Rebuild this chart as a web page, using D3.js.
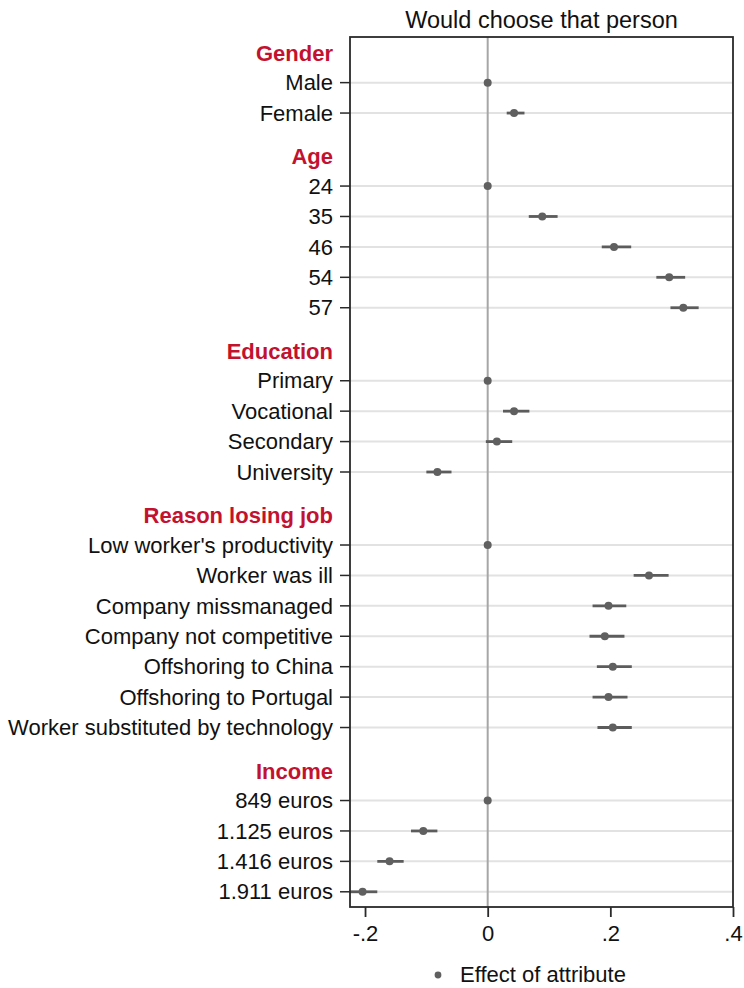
<!DOCTYPE html>
<html>
<head>
<meta charset="utf-8">
<script src="https://cdn.jsdelivr.net/npm/d3@7"></script>
<style>
  body { margin: 0; background: #fff; }
  svg text { font-family: "Liberation Sans", Arial, Helvetica, sans-serif; }
</style>
</head>
<body>
<div id="chart"></div>
<script>
// groups, labels and estimates
const groupNames = ['Gender', 'Age', 'Education', 'Reason losing job', 'Income'];
const gender = ['Male', 'Female'];
const age = ['24', '35', '46', '54', '57'];
const education = ['Primary', 'Vocational', 'Secondary', 'University'];
const reason = ["Low worker's productivity", 'Worker was ill', 'Company missmanaged',
  'Company not competitive', 'Offshoring to China', 'Offshoring to Portugal',
  'Worker substituted by technology'];
const income = ['849 euros', '1.125 euros', '1.416 euros', '1.911 euros'];

const genderEst = [0, 0.043];
const genderLo = [0, 0.031];
const genderHi = [0, 0.060];
const ageEst = [0, 0.089, 0.206, 0.296, 0.319];
const ageLo = [0, 0.067, 0.186, 0.275, 0.298];
const ageHi = [0, 0.114, 0.234, 0.322, 0.344];
const eduEst = [0, 0.043, 0.015, -0.082];
const eduLo = [0, 0.025, -0.003, -0.100];
const eduHi = [0, 0.068, 0.040, -0.059];
const reasonEst = [0, 0.263, 0.197, 0.191, 0.204, 0.197, 0.204];
const reasonLo = [0, 0.238, 0.171, 0.166, 0.178, 0.171, 0.179];
const reasonHi = [0, 0.295, 0.226, 0.223, 0.235, 0.228, 0.235];
const incomeEst = [0, -0.105, -0.160, -0.204];
const incomeLo = [0, -0.125, -0.180, -0.225];
const incomeHi = [0, -0.082, -0.137, -0.180];

const xTicks = [-0.2, 0, 0.2, 0.4];
const title = 'Would choose that person';
const legendLabel = 'Effect of attribute';

const groups = [
  { name: groupNames[0], labels: gender, est: genderEst, lo: genderLo, hi: genderHi },
  { name: groupNames[1], labels: age, est: ageEst, lo: ageLo, hi: ageHi },
  { name: groupNames[2], labels: education, est: eduEst, lo: eduLo, hi: eduHi },
  { name: groupNames[3], labels: reason, est: reasonEst, lo: reasonLo, hi: reasonHi },
  { name: groupNames[4], labels: income, est: incomeEst, lo: incomeLo, hi: incomeHi }
];

// lay rows out in "row units": one unit per row, extra gap before each group
const rows = [];
const heads = [];
let pos = 1.5;
groups.forEach((g, gi) => {
  if (gi > 0) pos += 1.4;
  heads.push({ name: g.name, pos: pos - 0.97 });
  g.labels.forEach((l, i) => {
    rows.push({ label: l, est: g.est[i], lo: g.lo[i], hi: g.hi[i], pos: pos });
    pos += 1;
  });
});
const lastPos = pos - 0.5;

const W = 744, H = 988;
const margin = { top: 37, right: 11, bottom: 81, left: 350 };
const fs = '22px';

const svg = d3.select('#chart').append('svg')
  .attr('width', W)
  .attr('height', H);

const x = d3.scaleLinear()
  .domain([-0.2245, 0.4])
  .range([margin.left, W - margin.right]);

const y = d3.scaleLinear()
  .domain([0, lastPos])
  .range([margin.top, H - margin.bottom]);

// grid lines
svg.append('g')
  .selectAll('line')
  .data(rows)
  .enter()
  .append('line')
  .attr('x1', margin.left)
  .attr('x2', W - margin.right)
  .attr('y1', d => y(d.pos))
  .attr('y2', d => y(d.pos))
  .attr('stroke', '#e2e2e2')
  .attr('stroke-width', 2);

// zero line
svg.append('line')
  .attr('x1', x(0)).attr('x2', x(0))
  .attr('y1', margin.top).attr('y2', H - margin.bottom)
  .attr('stroke', '#a6a6a6')
  .attr('stroke-width', 2);

// confidence intervals
svg.append('g')
  .selectAll('line')
  .data(rows.filter(d => d.hi !== d.lo))
  .enter()
  .append('line')
  .attr('x1', d => x(d.lo))
  .attr('x2', d => x(d.hi))
  .attr('y1', d => y(d.pos))
  .attr('y2', d => y(d.pos))
  .attr('stroke', '#5c5c5c')
  .attr('stroke-width', 2.8);

svg.append('g')
  .selectAll('circle')
  .data(rows)
  .enter()
  .append('circle')
  .attr('cx', d => x(d.est))
  .attr('cy', d => y(d.pos))
  .attr('r', 4)
  .attr('fill', '#606060');

// frame
svg.append('rect')
  .attr('x', margin.left)
  .attr('y', margin.top)
  .attr('width', W - margin.right - margin.left)
  .attr('height', H - margin.bottom - margin.top)
  .attr('fill', 'none')
  .attr('stroke', '#2a2a2a')
  .attr('stroke-width', 1.8);

// y axis ticks and labels
const yAxis = svg.append('g');
yAxis.selectAll('line')
  .data(rows)
  .enter()
  .append('line')
  .attr('x1', margin.left - 10)
  .attr('x2', margin.left)
  .attr('y1', d => y(d.pos))
  .attr('y2', d => y(d.pos))
  .attr('stroke', '#2a2a2a')
  .attr('stroke-width', 1.5);

yAxis.selectAll('text.lbl')
  .data(rows)
  .enter()
  .append('text')
  .attr('class', 'lbl')
  .attr('x', margin.left - 17)
  .attr('y', d => y(d.pos))
  .attr('dy', '0.35em')
  .attr('text-anchor', 'end')
  .style('font-size', fs)
  .attr('fill', '#111')
  .text(d => d.label);

yAxis.selectAll('text.head')
  .data(heads)
  .enter()
  .append('text')
  .attr('class', 'head')
  .attr('x', margin.left - 17)
  .attr('y', d => y(d.pos))
  .attr('dy', '0.35em')
  .attr('text-anchor', 'end')
  .style('font-size', fs)
  .style('font-weight', 'bold')
  .attr('fill', '#c3122f')
  .text(d => d.name);

// x axis
const xAxis = svg.append('g')
  .attr('transform', `translate(0,${H - margin.bottom})`)
  .call(d3.axisBottom(x)
    .tickValues(xTicks)
    .tickSize(10)
    .tickPadding(8)
    .tickFormat(d => d === 0 ? '0' : d3.format('.1f')(d).replace('−', '-').replace('0.', '.')));
xAxis.select('.domain').remove();
xAxis.selectAll('line').attr('stroke', '#2a2a2a').attr('stroke-width', 1.8);
xAxis.selectAll('text')
  .style('font-size', fs)
  .attr('fill', '#111');

// title
svg.append('text')
  .attr('x', (margin.left + W - margin.right) / 2)
  .attr('y', 28)
  .attr('text-anchor', 'middle')
  .style('font-size', '23.5px')
  .attr('fill', '#111')
  .text(title);

// legend
svg.append('circle')
  .attr('cx', 438)
  .attr('cy', 975)
  .attr('r', 3.4)
  .attr('fill', '#606060');
svg.append('text')
  .attr('x', 460)
  .attr('y', 982)
  .style('font-size', fs)
  .attr('fill', '#111')
  .text(legendLabel);
</script>
</body>
</html>
